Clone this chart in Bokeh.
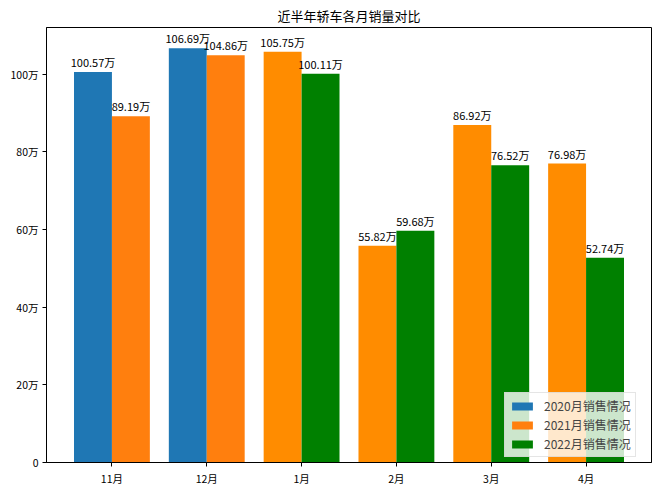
from bokeh.plotting import figure
from bokeh.models import ColumnDataSource, FixedTicker, Legend, LegendItem
from bokeh.core.properties import value
from bokeh.embed import file_html
from bokeh.resources import INLINE

# ---- data ----
months = ["11月", "12月", "1月", "2月", "3月", "4月"]
sales_2020 = [100.57, 106.69, None, None, None, None]
sales_2021 = [89.19, 104.86, 105.75, 55.82, 86.92, 76.98]
sales_2022 = [None, None, 100.11, 59.68, 76.52, 52.74]
series_labels = ["2020月销售情况", "2021月销售情况", "2022月销售情况"]
y_ticks = [0, 20, 40, 60, 80, 100]
y_tick_labels = ["0", "20万", "40万", "60万", "80万", "100万"]

FONT = "Noto Sans CJK SC"
BAR_W = 0.4
C2020 = "#1f77b4"
C2021_A = "#ff7f0e"   # 2021 bars beside 2020
C2021_B = "#ff8c00"   # 2021 bars beside 2022
C2022 = "#008000"

# place bars: the first present series of each month left of the tick, the second right
pos = {0: {}, 1: {}, 2: {}}
for i in range(len(months)):
    present = [k for k, s in enumerate([sales_2020, sales_2021, sales_2022]) if s[i] is not None]
    for j, k in enumerate(present):
        pos[k][i] = i - BAR_W / 2 + j * BAR_W

def make_src(series, k, colors):
    xs, ys, ts, cs = [], [], [], []
    for i, v in enumerate(series):
        if v is None:
            continue
        xs.append(pos[k][i]); ys.append(v); ts.append(f"{v:.2f}万"); cs.append(colors[i])
    return ColumnDataSource(dict(x=xs, top=ys, text=ts, color=cs))

src20 = make_src(sales_2020, 0, [C2020] * 6)
src21 = make_src(sales_2021, 1, [C2021_A if b is not None else C2021_B for b in sales_2020])
src22 = make_src(sales_2022, 2, [C2022] * 6)

p = figure(width=652, height=488, x_range=(-0.69, 5.69), y_range=(0, 112.02),
           output_backend="svg", toolbar_location=None,
           min_border_left=46, min_border_right=1, min_border_bottom=25, min_border_top=0)

p.title.text = "近半年轿车各月销量对比"
p.title.align = "center"
p.title.text_font = FONT
p.title.text_font_size = "13px"
p.title.text_font_style = "normal"
p.title.text_color = "#000000"
p.title.standoff = 6

r20 = p.vbar(x="x", top="top", width=BAR_W, bottom=0, color="color", source=src20, line_width=0)
r21 = p.vbar(x="x", top="top", width=BAR_W, bottom=0, color="color", source=src21, line_width=0)
r22 = p.vbar(x="x", top="top", width=BAR_W, bottom=0, color="color", source=src22, line_width=0)

for s in (src20, src21, src22):
    p.text(x="x", y="top", text="text", source=s, text_align="center", text_baseline="bottom",
           y_offset=-2, text_font=value(FONT), text_font_size="11px", text_color="#000000")

# legend proxies
l20 = p.vbar(x=[-10], top=[1], width=BAR_W, color=C2020, line_width=0)
l21 = p.vbar(x=[-10], top=[1], width=BAR_W, color=C2021_A, line_width=0)
l22 = p.vbar(x=[-10], top=[1], width=BAR_W, color=C2022, line_width=0)
legend = Legend(items=[LegendItem(label=series_labels[0], renderers=[l20]),
                       LegendItem(label=series_labels[1], renderers=[l21]),
                       LegendItem(label=series_labels[2], renderers=[l22])],
                location=(458, 5), margin=0, padding=4, spacing=2,
                glyph_width=26, glyph_height=10, label_height=14, label_standoff=9,
                label_text_font=FONT, label_text_font_size="12px",
                background_fill_alpha=0.8, border_line_color="#cccccc", border_line_width=1)
p.add_layout(legend)

p.xgrid.visible = False
p.ygrid.visible = False
p.outline_line_color = "#000000"
p.outline_line_width = 1

p.xaxis.ticker = FixedTicker(ticks=list(range(len(months))))
p.xaxis.major_label_overrides = {i: m for i, m in enumerate(months)}
p.yaxis.ticker = FixedTicker(ticks=y_ticks)
p.yaxis.major_label_overrides = {t: l for t, l in zip(y_ticks, y_tick_labels)}
for ax in (p.xaxis, p.yaxis):
    ax.minor_tick_line_color = None
    ax.major_tick_in = 0
    ax.major_tick_out = 4
    ax.major_tick_line_color = "#000000"
    ax.axis_line_color = "#000000"
    ax.major_label_text_font = FONT
    ax.major_label_text_font_size = "10.5px"
    ax.major_label_text_color = "#000000"
    ax.major_label_standoff = 4

open("out.html", "w").write(file_html(p, INLINE))
